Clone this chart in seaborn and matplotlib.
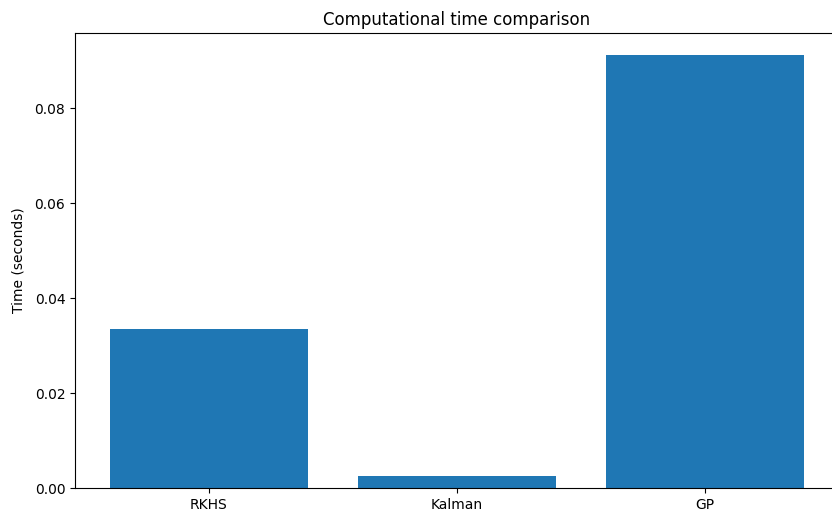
import matplotlib
matplotlib.use("Agg")
import matplotlib.pyplot as plt
import seaborn as sns
import pandas as pd

# timing results
methods = ["RKHS", "Kalman", "GP"]
times = [0.0335, 0.0025, 0.0912]

df = pd.DataFrame({"method": methods, "time": times})

fig = plt.figure(figsize=(8.32, 5.14), dpi=100)
# axes run a little past the right edge of the figure (as in the reference)
ax = fig.add_axes([75 / 832, 1 - 488 / 514, (839 - 75) / 832, (488 - 33) / 514])

sns.barplot(data=df, x="method", y="time", color="#1f77b4", saturation=1,
            width=0.8, errorbar=None, linewidth=0, ax=ax)

ax.set_xlim(-0.54, 2.54)
ax.set_ylim(0, 0.0958)
ax.set_yticks([0.0, 0.02, 0.04, 0.06, 0.08])
ax.set_xlabel("")
ax.set_ylabel("Time (seconds)", labelpad=6.5)
ax.set_title("Computational time comparison")

fig.savefig("out.png", dpi=100)
